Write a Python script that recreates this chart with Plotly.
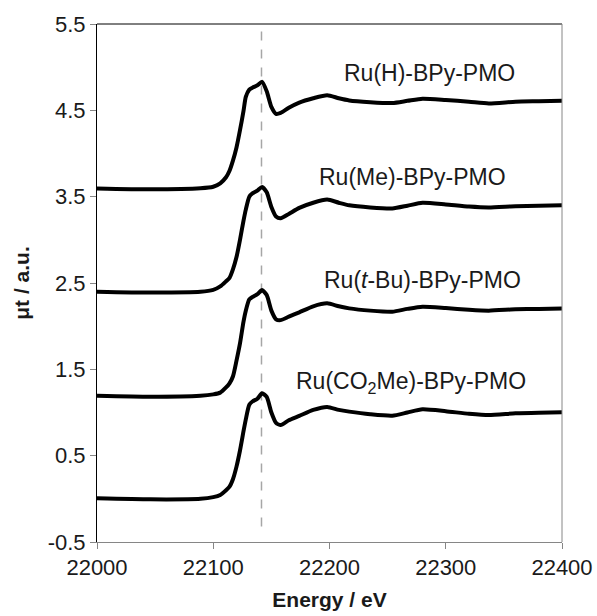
import plotly.graph_objects as go

energy = [22000, 22046, 22089, 22100, 22106, 22111, 22114, 22117, 22120, 22123,
          22126, 22128, 22131, 22134, 22138, 22142, 22146, 22150, 22154, 22158,
          22165, 22174, 22186, 22198, 22208, 22217, 22235, 22254, 22267, 22280,
          22300, 22320, 22337, 22360, 22380, 22400]

mu_h = [3.595, 3.585, 3.597, 3.615, 3.655, 3.725, 3.80, 3.92, 4.07, 4.27,
        4.49, 4.655, 4.74, 4.765, 4.79, 4.83, 4.72, 4.54, 4.46, 4.47,
        4.53, 4.59, 4.64, 4.675, 4.64, 4.615, 4.595, 4.585, 4.61, 4.635,
        4.62, 4.60, 4.58, 4.60, 4.605, 4.61]

mu_me = [2.40, 2.39, 2.398, 2.42, 2.46, 2.52, 2.56, 2.66, 2.80, 3.00,
         3.22, 3.35, 3.50, 3.54, 3.57, 3.612, 3.55, 3.38, 3.27, 3.25,
         3.30, 3.37, 3.43, 3.467, 3.43, 3.40, 3.375, 3.363, 3.395, 3.43,
         3.41, 3.385, 3.375, 3.39, 3.395, 3.40]

mu_tbu = [1.194, 1.183, 1.194, 1.21, 1.23, 1.29, 1.338, 1.42, 1.60, 1.80,
          2.05, 2.18, 2.31, 2.34, 2.37, 2.418, 2.36, 2.18, 2.08, 2.07,
          2.11, 2.16, 2.23, 2.264, 2.23, 2.206, 2.18, 2.167, 2.20, 2.225,
          2.21, 2.19, 2.18, 2.195, 2.20, 2.206]

mu_co2me = [0.006, -0.006, 0.0, 0.02, 0.045, 0.10, 0.141, 0.23, 0.373, 0.56,
            0.78, 0.92, 1.09, 1.13, 1.16, 1.222, 1.18, 1.00, 0.88, 0.855,
            0.91, 0.96, 1.03, 1.065, 1.03, 1.01, 0.98, 0.963, 1.00, 1.037,
            1.015, 0.985, 0.97, 0.99, 0.998, 1.002]

series = [mu_h, mu_me, mu_tbu, mu_co2me]
labels = ["Ru(H)-BPy-PMO", "Ru(Me)-BPy-PMO", "Ru(<i>t</i>-Bu)-BPy-PMO",
          "Ru(CO<sub>2</sub>Me)-BPy-PMO"]
label_x = [22286, 22271, 22280, 22270]
label_y = [4.93, 3.73, 2.53, 1.35]

dash_x = 22141.5
dash_y = [-0.32, 5.44]

x_ticks = [22000, 22100, 22200, 22300, 22400]
y_ticks = [-0.5, 0.5, 1.5, 2.5, 3.5, 4.5, 5.5]

FONT = "Liberation Sans, Arial, sans-serif"

fig = go.Figure()
fig.add_trace(go.Scatter(x=[dash_x, dash_x], y=dash_y, mode="lines",
                         line=dict(color="#a6a6a6", width=1.5, dash="dash"),
                         showlegend=False, hoverinfo="skip"))
for s in series:
    fig.add_trace(go.Scatter(x=energy, y=s, mode="lines",
                             line=dict(color="black", width=4, shape="spline", smoothing=0.6),
                             showlegend=False))

for t, xx, yy in zip(labels, label_x, label_y):
    fig.add_annotation(x=xx, y=yy, text=t, showarrow=False,
                       font=dict(family=FONT, size=23, color="#1a1a1a"),
                       xanchor="center", yanchor="middle")

# frame lines (top black, right gray)
fig.add_shape(type="line", xref="paper", yref="paper", x0=0, x1=1, y0=1, y1=1,
              line=dict(color="black", width=1))
fig.add_shape(type="line", xref="paper", yref="paper", x0=1, x1=1, y0=0, y1=1,
              line=dict(color="#868686", width=1))

fig.update_layout(
    width=597, height=616,
    margin=dict(l=97, r=35, t=24, b=74, autoexpand=False),
    paper_bgcolor="white", plot_bgcolor="white",
    font=dict(family=FONT, size=22, color="#1a1a1a"),
    xaxis=dict(range=[22000, 22400], tickvals=x_ticks, ticktext=[str(v) for v in x_ticks],
               showgrid=False, zeroline=False, showline=True, linecolor="#868686", linewidth=1,
               ticks="outside", ticklen=6, tickcolor="#868686", automargin=False,
               title=dict(text="<b>Energy / eV</b>", font=dict(size=21), standoff=12)),
    yaxis=dict(range=[-0.5, 5.5], tickvals=y_ticks, ticktext=[f"{v:.1f}" for v in y_ticks],
               showgrid=False, zeroline=False, showline=True, linecolor="black", linewidth=1,
               ticks="outside", ticklen=6, tickcolor="#868686", automargin=False,
               title=dict(text="<b>μt / a.u.</b>", font=dict(size=21), standoff=12)),
)

fig.write_html("out.html")
